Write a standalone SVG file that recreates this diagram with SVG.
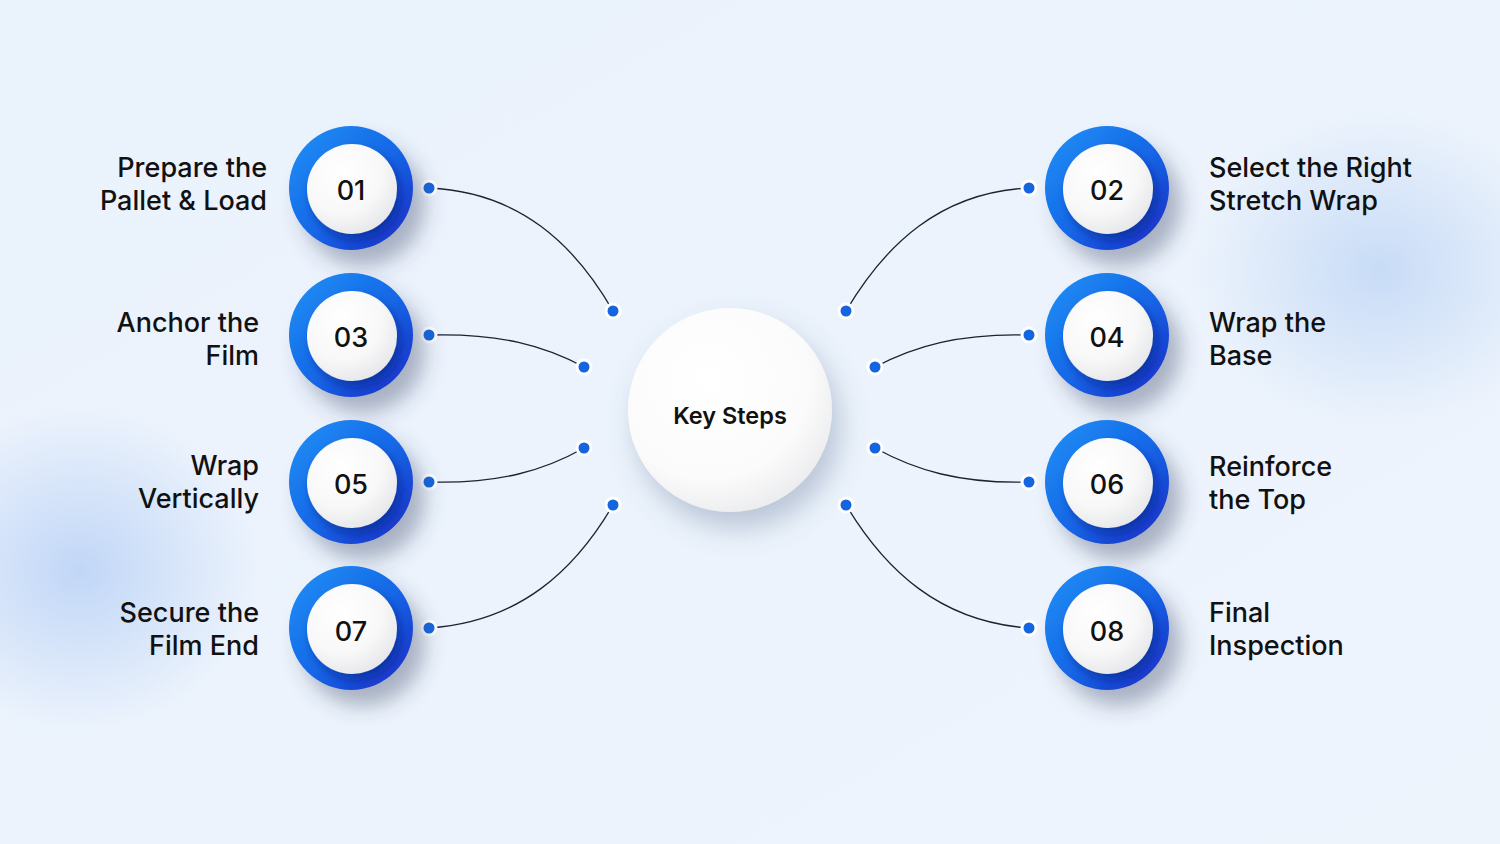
<svg xmlns="http://www.w3.org/2000/svg" width="1500" height="844" viewBox="0 0 1500 844">
<defs>
<linearGradient id="bg" x1="0" y1="0" x2="1" y2="1">
<stop offset="0" stop-color="#eaf2fc"/>
<stop offset="1" stop-color="#eef4fc"/>
</linearGradient>
<radialGradient id="blobL" cx="0.5" cy="0.5" r="0.5">
<stop offset="0" stop-color="#bcd3f6" stop-opacity="0.9"/>
<stop offset="1" stop-color="#bcd3f6" stop-opacity="0"/>
</radialGradient>
<radialGradient id="blobR" cx="0.5" cy="0.5" r="0.5">
<stop offset="0" stop-color="#c4d9f6" stop-opacity="0.9"/>
<stop offset="1" stop-color="#c4d9f6" stop-opacity="0"/>
</radialGradient>
<linearGradient id="ring" x1="0.15" y1="0.15" x2="0.85" y2="0.85">
<stop offset="0" stop-color="#1b86f2"/>
<stop offset="0.55" stop-color="#1766e6"/>
<stop offset="1" stop-color="#1a3dcf"/>
</linearGradient>
<radialGradient id="inner" cx="0.38" cy="0.32" r="0.75">
<stop offset="0" stop-color="#ffffff"/>
<stop offset="0.6" stop-color="#f8f8f8"/>
<stop offset="1" stop-color="#e4e5e8"/>
</radialGradient>
<radialGradient id="hub" cx="0.4" cy="0.35" r="0.75">
<stop offset="0" stop-color="#ffffff"/>
<stop offset="0.65" stop-color="#fbfbfb"/>
<stop offset="1" stop-color="#e6e7ea"/>
</radialGradient>
<filter id="sh" x="-50%" y="-50%" width="200%" height="200%">
<feDropShadow dx="12" dy="16" stdDeviation="10" flood-color="#3a4a66" flood-opacity="0.38"/>
</filter>
<filter id="ish" x="-50%" y="-50%" width="200%" height="200%">
<feDropShadow dx="4" dy="6" stdDeviation="5" flood-color="#0a1f6a" flood-opacity="0.45"/>
</filter>
<filter id="hsh" x="-50%" y="-50%" width="200%" height="200%">
<feDropShadow dx="8" dy="16" stdDeviation="14" flood-color="#5a6e92" flood-opacity="0.35"/>
</filter>
</defs>
<style>
.lbl{font-family:Inter,"Liberation Sans",sans-serif;font-size:27px;font-weight:500;fill:#111111;}
.num{font-family:Inter,"Liberation Sans",sans-serif;font-size:27px;font-weight:500;fill:#111111;text-anchor:middle;}
.hubt{font-family:Inter,"Liberation Sans",sans-serif;font-size:23.5px;font-weight:600;fill:#111111;text-anchor:middle;}
.ln{fill:none;stroke:#1c2230;stroke-width:1.3;}
.dot{fill:#1565e0;stroke:#ffffff;stroke-width:3;}
.r{text-anchor:end;}
</style>
<rect width="1500" height="844" fill="url(#bg)"/>
<ellipse cx="80" cy="570" rx="180" ry="160" fill="url(#blobL)"/>
<ellipse cx="1380" cy="270" rx="190" ry="160" fill="url(#blobR)"/>

<g id="connectors">
<path class="ln" d="M429,188 C520,192 575,245 613,311"/>
<path class="ln" d="M429,335 C500,333 545,346 584,367"/>
<path class="ln" d="M429,482 C500,484 545,470 584,448"/>
<path class="ln" d="M429,628 C520,622 575,570 613,505"/>
<path class="ln" d="M1029,188 C940,192 885,245 846,311"/>
<path class="ln" d="M1029,335 C960,333 915,346 875,367"/>
<path class="ln" d="M1029,482 C960,484 915,470 875,448"/>
<path class="ln" d="M1029,628 C940,622 885,570 846,505"/>
<circle class="dot" cx="429" cy="188" r="7"/>
<circle class="dot" cx="613" cy="311" r="7"/>
<circle class="dot" cx="429" cy="335" r="7"/>
<circle class="dot" cx="584" cy="367" r="7"/>
<circle class="dot" cx="429" cy="482" r="7"/>
<circle class="dot" cx="584" cy="448" r="7"/>
<circle class="dot" cx="429" cy="628" r="7"/>
<circle class="dot" cx="613" cy="505" r="7"/>
<circle class="dot" cx="1029" cy="188" r="7"/>
<circle class="dot" cx="846" cy="311" r="7"/>
<circle class="dot" cx="1029" cy="335" r="7"/>
<circle class="dot" cx="875" cy="367" r="7"/>
<circle class="dot" cx="1029" cy="482" r="7"/>
<circle class="dot" cx="875" cy="448" r="7"/>
<circle class="dot" cx="1029" cy="628" r="7"/>
<circle class="dot" cx="846" cy="505" r="7"/>
</g>

<g id="hub">
<circle cx="730" cy="410" r="102" fill="url(#hub)" filter="url(#hsh)"/>
<text class="hubt" x="730" y="424">Key Steps</text>
</g>

<g id="step01">
<circle cx="351" cy="188" r="62" fill="url(#ring)" filter="url(#sh)"/>
<circle cx="352" cy="189" r="45" fill="url(#inner)" filter="url(#ish)"/>
<text class="num" x="351" y="200">01</text>
<text class="lbl r" x="267" y="177">Prepare the</text>
<text class="lbl r" x="267" y="210">Pallet &amp; Load</text>
</g>
<g id="step03">
<circle cx="351" cy="335" r="62" fill="url(#ring)" filter="url(#sh)"/>
<circle cx="352" cy="336" r="45" fill="url(#inner)" filter="url(#ish)"/>
<text class="num" x="351" y="347">03</text>
<text class="lbl r" x="259" y="332">Anchor the</text>
<text class="lbl r" x="259" y="365">Film</text>
</g>
<g id="step05">
<circle cx="351" cy="482" r="62" fill="url(#ring)" filter="url(#sh)"/>
<circle cx="352" cy="483" r="45" fill="url(#inner)" filter="url(#ish)"/>
<text class="num" x="351" y="494">05</text>
<text class="lbl r" x="259" y="475">Wrap</text>
<text class="lbl r" x="259" y="508">Vertically</text>
</g>
<g id="step07">
<circle cx="351" cy="628" r="62" fill="url(#ring)" filter="url(#sh)"/>
<circle cx="352" cy="629" r="45" fill="url(#inner)" filter="url(#ish)"/>
<text class="num" x="351" y="641">07</text>
<text class="lbl r" x="259" y="622">Secure the</text>
<text class="lbl r" x="259" y="655">Film End</text>
</g>
<g id="step02">
<circle cx="1107" cy="188" r="62" fill="url(#ring)" filter="url(#sh)"/>
<circle cx="1108" cy="189" r="45" fill="url(#inner)" filter="url(#ish)"/>
<text class="num" x="1107" y="200">02</text>
<text class="lbl" x="1209" y="177">Select the Right</text>
<text class="lbl" x="1209" y="210">Stretch Wrap</text>
</g>
<g id="step04">
<circle cx="1107" cy="335" r="62" fill="url(#ring)" filter="url(#sh)"/>
<circle cx="1108" cy="336" r="45" fill="url(#inner)" filter="url(#ish)"/>
<text class="num" x="1107" y="347">04</text>
<text class="lbl" x="1209" y="332">Wrap the</text>
<text class="lbl" x="1209" y="365">Base</text>
</g>
<g id="step06">
<circle cx="1107" cy="482" r="62" fill="url(#ring)" filter="url(#sh)"/>
<circle cx="1108" cy="483" r="45" fill="url(#inner)" filter="url(#ish)"/>
<text class="num" x="1107" y="494">06</text>
<text class="lbl" x="1209" y="476">Reinforce</text>
<text class="lbl" x="1209" y="509">the Top</text>
</g>
<g id="step08">
<circle cx="1107" cy="628" r="62" fill="url(#ring)" filter="url(#sh)"/>
<circle cx="1108" cy="629" r="45" fill="url(#inner)" filter="url(#ish)"/>
<text class="num" x="1107" y="641">08</text>
<text class="lbl" x="1209" y="622">Final</text>
<text class="lbl" x="1209" y="655">Inspection</text>
</g>
</svg>
